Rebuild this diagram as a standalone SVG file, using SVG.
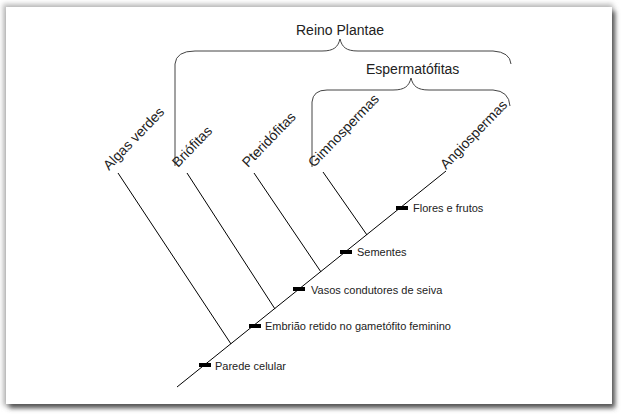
<svg xmlns="http://www.w3.org/2000/svg" width="622" height="417" viewBox="0 0 622 417">
<defs>
<filter id="sh" x="-5%" y="-5%" width="110%" height="110%"><feGaussianBlur stdDeviation="2.5"/></filter>
<style>
.ln{stroke:#000;stroke-width:1;fill:none}
.br{stroke:#444;stroke-width:1;fill:none}
.tk{fill:#000}
.sm{font-family:"Liberation Sans",Arial,sans-serif;font-size:11px;fill:#222}
.lg{font-family:"Liberation Sans",Arial,sans-serif;font-size:14px;fill:#222}
</style>
</defs>
<rect x="0" y="0" width="622" height="417" fill="#fff"/>
<rect x="3" y="4" width="610" height="402" fill="#bbb" filter="url(#sh)"/>
<rect x="9" y="11" width="606" height="397" fill="#555" filter="url(#sh)"/>
<rect x="6" y="7" width="606" height="397" fill="#fff"/>
<g id="connectors">
<line class="ln" x1="177" y1="387" x2="446" y2="171"/>
<line class="ln" x1="231" y1="344" x2="118" y2="173"/>
<line class="ln" x1="275" y1="309" x2="187" y2="173"/>
<line class="ln" x1="321" y1="272" x2="254" y2="173"/>
<line class="ln" x1="367" y1="235" x2="323" y2="172"/>
</g>
<g id="reino-plantae">
<path class="br" d="M175,166 L175,64 Q176,51 195,51 L322,51 C334,51 338,47 340,39 C342,47 346,51 358,51 L493,51 Q510,52 511,64"/>
<text class="lg" x="296" y="35">Reino Plantae</text>
</g>
<g id="espermatofitas">
<path class="br" d="M312,167 L312,102 Q313,90 327,90 L393,90 C405,90 409,86 411,78 C413,86 417,90 429,90 L493,90 Q509,91 510,106"/>
<text class="lg" x="366" y="74">Espermatófitas</text>
</g>
<g id="algas-verdes"><text class="lg" transform="translate(109,171) rotate(-46)">Algas verdes</text></g>
<g id="briofitas"><text class="lg" transform="translate(178,168) rotate(-46)">Briófitas</text></g>
<g id="pteridofitas"><text class="lg" transform="translate(248,168) rotate(-46)">Pteridófitas</text></g>
<g id="gimnospermas"><text class="lg" transform="translate(314,168) rotate(-46)">Gimnospermas</text></g>
<g id="angiospermas"><text class="lg" transform="translate(446,170) rotate(-46)">Angiospermas</text></g>
<g id="parede-celular"><rect class="tk" x="199" y="363" width="12" height="4"/><text class="sm" x="215" y="370">Parede celular</text></g>
<g id="embriao"><rect class="tk" x="249" y="324" width="12" height="4"/><text class="sm" x="265" y="330">Embrião retido no gametófito feminino</text></g>
<g id="vasos"><rect class="tk" x="293" y="287" width="12" height="4"/><text class="sm" x="311" y="294">Vasos condutores de seiva</text></g>
<g id="sementes"><rect class="tk" x="340" y="250" width="12" height="4"/><text class="sm" x="357" y="256">Sementes</text></g>
<g id="flores"><rect class="tk" x="396" y="206" width="12" height="4"/><text class="sm" x="413" y="212">Flores e frutos</text></g>
</svg>
